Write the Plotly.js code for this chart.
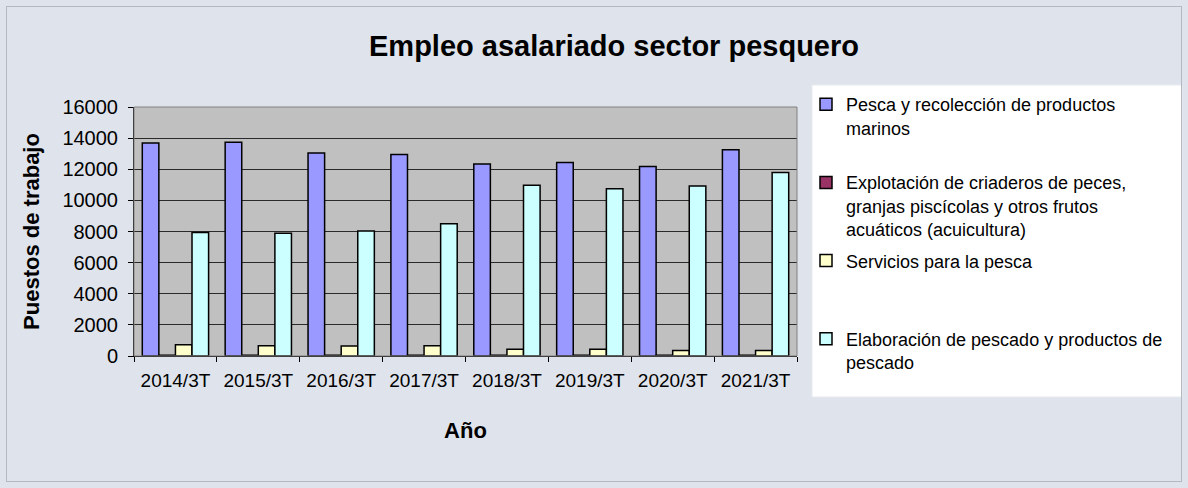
<!DOCTYPE html>
<html>
<head>
<meta charset="utf-8">
<script src="https://cdn.plot.ly/plotly-3.0.1.min.js"></script>
<style>
  html, body { margin: 0; padding: 0; background: #ffffff; }
  #wrap { position: relative; width: 1188px; height: 488px; }
  #chart { width: 1188px; height: 488px; }
  #frame { position: absolute; left: 6px; top: 6px; width: 1176px; height: 476px;
           border: 1px solid #b4b8c0; box-sizing: border-box; pointer-events: none; }
</style>
</head>
<body>
<div id="wrap">
  <div id="chart"></div>
  <div id="frame"></div>
</div>
<script>
// ---- data ----
const categories = ["2014/3T", "2015/3T", "2016/3T", "2017/3T", "2018/3T", "2019/3T", "2020/3T", "2021/3T"];
const seriesNames = [
  "Pesca y recolección de productos<br>marinos<br>\u00a0",
  "Explotación de criaderos de peces,<br>granjas piscícolas y otros frutos<br>acuáticos (acuicultura)",
  "Servicios para la pesca<br>\u00a0<br>\u00a0",
  "Elaboración de pescado y productos de<br>pescado"
];
const pesca = [13680, 13740, 13040, 12940, 12330, 12430, 12170, 13260];
const acuicultura = [50, 50, 50, 50, 50, 50, 50, 50];
const servicios = [720, 660, 650, 660, 440, 440, 350, 350];
const elaboracion = [7940, 7890, 8040, 8500, 10970, 10750, 10930, 11790];
const yTickVals = [0, 2000, 4000, 6000, 8000, 10000, 12000, 14000, 16000];

const colors = ["#9999ff", "#993366", "#ffffcc", "#ccffff"];
const values = [pesca, acuicultura, servicios, elaboracion];

const traces = values.map((v, i) => ({
  type: "bar",
  name: seriesNames[i],
  legendgroup: "g" + i,
  x: categories,
  y: v,
  marker: { color: colors[i], line: { color: "#000000", width: 1.5 } },
  hoverinfo: "x+y"
}));

// plot area in pixels: x 134..797, y 107..356
const L = 134, R = 797, T = 107, B = 356;
const W = 1188, H = 488;
const px = (x) => (x - L) / (R - L);
const py = (y) => (B - y) / (B - T);

const font = "Liberation Sans, Arial, sans-serif";

const layout = {
  width: W, height: H,
  margin: { l: L, r: W - R, t: T, b: H - B, pad: 0 },
  paper_bgcolor: "#dfe3eb",
  plot_bgcolor: "#c0c0c0",
  font: { family: font, color: "#000000" },
  barmode: "group",
  bargap: 0.2,
  bargroupgap: 0,
  title: {
    text: "<b>Empleo asalariado sector pesquero</b>",
    font: { family: font, size: 29, color: "#000000" },
    x: 614 / W, xref: "container", xanchor: "center",
    y: 1 - 46 / H, yref: "container", yanchor: "middle"
  },
  xaxis: {
    type: "category",
    showline: true, linecolor: "#000000", linewidth: 1,
    ticks: "outside", ticklen: 5, tickcolor: "#000000", tickson: "boundaries",
    tickfont: { family: font, size: 19, color: "#000000" },
    ticklabelstandoff: 7,
    showgrid: false, zeroline: false,
    automargin: false,
    title: { text: "<b>Año</b>", font: { family: font, size: 22, color: "#000000" }, standoff: 32 }
  },
  yaxis: {
    range: [0, 16000],
    tickvals: yTickVals,
    tickformat: "d",
    showline: true, linecolor: "#000000", linewidth: 1,
    ticks: "outside", ticklen: 5, tickcolor: "#000000",
    tickfont: { family: font, size: 20, color: "#000000" },
    ticklabelstandoff: 6,
    showgrid: true, gridcolor: "#2a2a2a", gridwidth: 1,
    zeroline: false,
    automargin: false,
    title: { text: "<b>Puestos de trabajo</b>", font: { family: font, size: 22, color: "#000000" }, standoff: 16 }
  },
  showlegend: true,
  legend: {
    x: 806 / W, y: 1 - 86 / H, xanchor: "left", yanchor: "top",
    xref: "container", yref: "container",
    maxheight: 400,
    bgcolor: "rgba(0,0,0,0)",
    borderwidth: 0,
    font: { family: font, size: 18, color: "#000000" },
    valign: "top",
    traceorder: "grouped",
    tracegroupgap: 5,
    itemclick: false, itemdoubleclick: false
  },
  shapes: [
    // legend box
    { type: "rect", xref: "paper", yref: "paper", layer: "below",
      x0: px(812), x1: px(1182), y0: py(85), y1: py(397),
      fillcolor: "#ffffff", line: { color: "#e8eaee", width: 1 } },
    // plot area border (top/right)
    { type: "rect", xref: "paper", yref: "paper", layer: "above",
      x0: 0, x1: 1, y0: 0, y1: 1,
      line: { color: "#808080", width: 1 }, fillcolor: "rgba(0,0,0,0)" }
  ]
};

Plotly.newPlot("chart", traces, layout, { displayModeBar: false, responsive: false });
</script>
</body>
</html>
